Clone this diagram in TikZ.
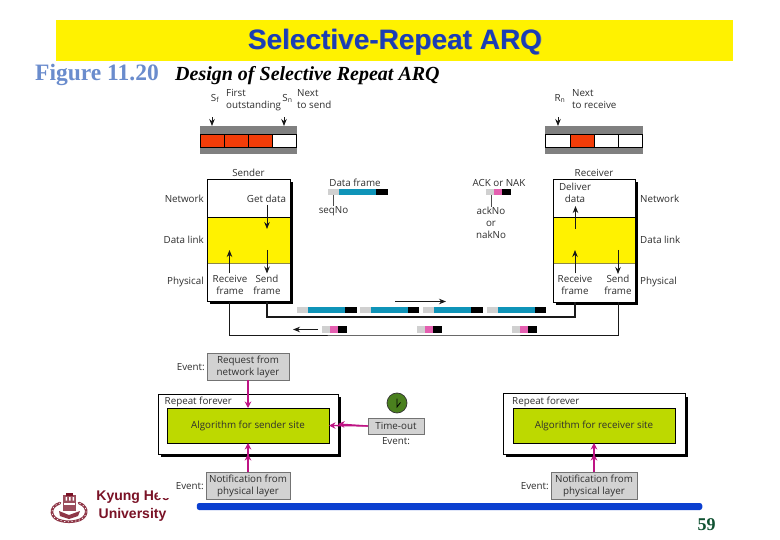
\documentclass[tikz,border=0pt]{standalone}
\usepackage{fontspec}
\setmainfont{Open Sans}
\newfontfamily\titlefont{Liberation Sans}
\newfontfamily\seriffont{Liberation Serif}
\usetikzlibrary{arrows.meta}
\definecolor{inkc}{HTML}{2E2E2E}
\definecolor{bandc}{HTML}{808080}
\definecolor{redc}{HTML}{F23C08}
\definecolor{limec}{HTML}{BDD900}
\definecolor{evc}{HTML}{D2D2D2}
\definecolor{pinkc}{HTML}{BE1484}
\definecolor{bluefr}{HTML}{0F94B8}
\definecolor{pinkfr}{HTML}{E45FB0}
\definecolor{grayfr}{HTML}{D0D0D0}
\definecolor{barc}{HTML}{0B3FD0}
\definecolor{kyung}{HTML}{7A1226}
\tikzset{
  x=1pt,y=-1pt,
  lbl/.style={font=\fontsize{9.8}{12}\selectfont,text=inkc,inner sep=0pt,align=center},
  rct/.style={inner sep=0pt,outer sep=0pt},
  arr/.style={-{Stealth[length=7pt,width=5.5pt]},line width=.8pt,black!90},
  link/.style={line width=1.1pt,black!90},
  parr/.style={-{Stealth[length=6.5pt,width=6.5pt]},line width=1.3pt,pinkc},
  evbox/.style={rct,fill=evc,draw=black!55,line width=.7pt},
  shdc/.style={fill=black},
}
% \bx{name}{style}{x1}{y1}{x2}{y2}{text}
\newcommand\bx[7]{%
  \pgfmathsetmacro\bxcx{(#3+#5)/2}\pgfmathsetmacro\bxcy{(#4+#6)/2}%
  \pgfmathsetmacro\bxw{#5-#3}\pgfmathsetmacro\bxh{#6-#4}%
  \node[rct,#2,minimum width=\bxw pt,minimum height=\bxh pt] (#1) at (\bxcx,\bxcy) {#7};}
% \dfr{name}{x}{y} data frame; \afr{name}{x}{y} ack frame
\newcommand\dfr[3]{%
  \fill[grayfr] (#2,#3) rectangle ++(11,6.5);
  \fill[bluefr] (#2+11,#3) rectangle ++(37,6.5);
  \node[rct,fill=black,minimum width=11.5pt,minimum height=6.5pt,anchor=north west] (#1) at (#2+48,#3) {};}
\newcommand\afr[3]{%
  \fill[grayfr] (#2,#3) rectangle ++(8,6.5);
  \fill[pinkfr] (#2+8,#3) rectangle ++(8,6.5);
  \node[rct,fill=black,minimum width=9pt,minimum height=6.5pt,anchor=north west] (#1) at (#2+16,#3) {};}
\begin{document}
\begin{tikzpicture}
\useasboundingbox (0,0) rectangle (780,540);
\fill[white] (0,0) rectangle (780,540);
% ---------- header
\bx{head}{fill=yellow}{56}{20}{733}{61}{}
\node[font=\titlefont\bfseries\fontsize{28}{30}\selectfont,text=black!45,inner sep=0pt] (titleshadow) at (395.6,42.6) {Selective-Repeat ARQ};
\node[font=\titlefont\bfseries\fontsize{28}{30}\selectfont,text={rgb,255:red,27;green,62;blue,178},inner sep=0pt] (title) at (395,42) {Selective-Repeat ARQ};
\node[font=\seriffont\bfseries\fontsize{23.5}{26}\selectfont,text={rgb,255:red,106;green,140;blue,205},inner sep=0pt,anchor=base west] (figno) at (35,81) {Figure 11.20};
\node[font=\seriffont\bfseries\itshape\fontsize{20}{22}\selectfont,inner sep=0pt,anchor=base west] (figcap) at (175,81) {Design of Selective Repeat ARQ};
% ---------- sender window
\bx{sband}{fill=bandc}{200}{126}{297}{154.5}{}
\bx{sc1}{fill=redc,draw=black,line width=.6pt}{200.5}{134}{224.5}{147}{}
\bx{sc2}{fill=redc,draw=black,line width=.6pt}{224.5}{134}{248.5}{147}{}
\bx{sc3}{fill=redc,draw=black,line width=.6pt}{248.5}{134}{272.5}{147}{}
\bx{sc4}{fill=white,draw=black,line width=.6pt}{272.5}{134}{296.5}{147}{}
\node[lbl] (sf) at (215,98.5) {S\textsubscript{f}};
\node[lbl,align=left,anchor=north west] (first) at (226,89.5) {First\\outstanding};
\node[lbl] (sn) at (287.5,98.5) {S\textsubscript{n}};
\node[lbl,align=left,anchor=north west] (nextsend) at (297,89.5) {Next\\to send};
\coordinate (sfa) at (212,117.5); \coordinate (sfb) at (212,126);
\coordinate (sna) at (284,117.5); \coordinate (snb) at (284,126);
\draw[arr] (sfa) -- (sfb);
\draw[arr] (sna) -- (snb);
% ---------- receiver window
\bx{rband}{fill=bandc}{545}{126}{643}{154.5}{}
\bx{rc1}{fill=white,draw=black,line width=.6pt}{545.5}{134}{570}{147}{}
\bx{rc2}{fill=redc,draw=black,line width=.6pt}{570}{134}{594}{147}{}
\bx{rc3}{fill=white,draw=black,line width=.6pt}{594}{134}{618}{147}{}
\bx{rc4}{fill=white,draw=black,line width=.6pt}{618}{134}{642.5}{147}{}
\node[lbl] (rn) at (560,98.5) {R\textsubscript{n}};
\node[lbl,align=left,anchor=north west] (nextrecv) at (572,89.5) {Next\\to receive};
\coordinate (rna) at (558,117.5); \coordinate (rnb) at (558,126);
\draw[arr] (rna) -- (rnb);
% ---------- sender stack
\bx{sboxs}{shdc}{210}{182}{292.5}{304}{}
\bx{sbox}{fill=white,draw=black,line width=.8pt}{207}{179}{290}{301}{}
\bx{sdl}{fill=yellow}{207.5}{217}{289.5}{263}{}
\draw[black,line width=.7pt] (sdl.north west) -- (sdl.north east);
\draw[black!30!yellow!70!black,line width=.7pt] (sdl.south west) -- (sdl.south east);
\node[lbl] (sender) at (248.5,173) {Sender};
\node[lbl,anchor=east] (lnet) at (204,198.5) {Network};
\node[lbl,anchor=east] (ldl) at (204,240) {Data link};
\node[lbl,anchor=east] (lph) at (204,282) {Physical};
\node[lbl] (getdata) at (266.5,198.5) {Get data};
\node[lbl] (recvs) at (230,285) {Receive\\frame};
\node[lbl] (sends) at (267,285) {Send\\frame};
\coordinate (s1a) at (267,205); \coordinate (s1b) at (267,229);
\coordinate (s2a) at (267,250); \coordinate (s2b) at (267,273.5);
\coordinate (s3a) at (229.5,273.5); \coordinate (s3b) at (229.5,250);
\draw[arr] (s1a) -- (s1b);
\draw[arr] (s2a) -- (s2b);
\draw[arr] (s3a) -- (s3b);
% ---------- receiver stack
\bx{rboxs}{shdc}{556}{182}{637.5}{305}{}
\bx{rbox}{fill=white,draw=black,line width=.8pt}{553}{179}{635}{302}{}
\bx{rdl}{fill=yellow}{553.5}{217}{634.5}{263}{}
\draw[black,line width=.7pt] (rdl.north west) -- (rdl.north east);
\draw[black!30!yellow!70!black,line width=.7pt] (rdl.south west) -- (rdl.south east);
\node[lbl] (receiver) at (594,173) {Receiver};
\node[lbl,anchor=west] (rnet) at (640,198.5) {Network};
\node[lbl,anchor=west] (rdlk) at (640,240) {Data link};
\node[lbl,anchor=west] (rph) at (640,282) {Physical};
\node[lbl] (deliver) at (575,192.5) {Deliver\\data};
\node[lbl] (recvr) at (575,285) {Receive\\frame};
\node[lbl] (sendr) at (618,285) {Send\\frame};
\coordinate (r1a) at (575.5,229); \coordinate (r1b) at (575.5,206);
\coordinate (r2a) at (575,273.5); \coordinate (r2b) at (575,250);
\coordinate (r3a) at (618,250); \coordinate (r3b) at (618,274);
\draw[arr] (r1a) -- (r1b);
\draw[arr] (r2a) -- (r2b);
\draw[arr] (r3a) -- (r3b);
% ---------- legends
\node[lbl] (dflab) at (355,183) {Data frame};
\dfr{dleg}{328}{189}
\coordinate (seqtop) at (333.5,195);
\node[lbl] (seqno) at (333.5,211) {seqNo};
\draw[black!70,line width=.7pt] (seqtop) -- (seqno.north);
\node[lbl] (aklab) at (499,183) {ACK or NAK};
\afr{aleg}{486}{189}
\coordinate (acktop) at (491,195);
\node[lbl] (ackno) at (491,222.5) {ackNo\\or\\nakNo};
\draw[black!70,line width=.7pt] (acktop) -- (ackno.north);
% ---------- channel
\coordinate (l1a) at (267,302); \coordinate (l1b) at (575,302);
\coordinate (l2a) at (229.5,302); \coordinate (l2b) at (618,302);
\draw[link] (l1a) |- (421,317) -| (l1b);
\draw[link,line width=.9pt] (l2a) |- (424,335) -| (l2b);
\dfr{d1}{297}{307}
\dfr{d2}{359.5}{307}
\dfr{d3}{423}{307}
\dfr{d4}{486.5}{307}
\afr{a1}{321.5}{326.5}
\afr{a2}{417}{326.5}
\afr{a3}{512}{326.5}
\coordinate (fwa) at (395,301.5); \coordinate (fwb) at (446,301.5);
\coordinate (bwa) at (318,329.5); \coordinate (bwb) at (293,329.5);
\draw[arr] (fwa) -- (fwb);
\draw[arr] (bwa) -- (bwb);
% ---------- sender algorithm
\bx{req}{evbox}{207}{353}{289}{380}{}
\node[lbl] (reqt) at (248,367) {Request from\\network layer};
\node[lbl,anchor=east] (ev1) at (205,367) {Event:};
\bx{sreps}{shdc}{161}{397}{341}{457}{}
\bx{srep}{fill=white,draw=black,line width=.8pt}{158}{394}{338}{454}{}
\node[lbl,anchor=west] (srept) at (164.5,401.5) {Repeat forever};
\bx{salg}{fill=limec,draw=black,line width=.7pt}{167}{408}{329}{443}{\fontsize{9.8}{12}\selectfont\color{inkc}Algorithm for sender site}
\bx{tout}{evbox}{368}{418}{424}{434}{\fontsize{9.8}{12}\selectfont\color{inkc}Time-out}
\node[lbl] (ev2) at (396,441) {Event:};
\node[circle,fill={rgb,255:red,74;green,128;blue,30},draw=black!80,line width=.7pt,minimum size=20pt,inner sep=0pt] (clock) at (397,403) {};
\draw[black,line width=.8pt] (397,398.5) -- (397,407) -- (400.5,402.5);
\bx{nots}{evbox}{206}{472}{290}{499}{}
\node[lbl] (notst) at (248,485.5) {Notification from\\physical layer};
\node[lbl,anchor=east] (ev3) at (204,486) {Event:};
\draw[parr] (req.south) -- (salg.north);
\draw[parr] (nots.north) -- (salg.south);
\draw[parr] (nots.north) -- (srep.south);
\draw[parr] (tout.west) -- (salg.east);
\draw[parr] (tout.west) -- (srep.east);
% ---------- receiver algorithm
\bx{rreps}{shdc}{506}{396.5}{688}{457}{}
\bx{rrep}{fill=white,draw=black,line width=.8pt}{503}{393.5}{685}{454}{}
\node[lbl,anchor=west] (rrept) at (512,401.5) {Repeat forever};
\bx{ralg}{fill=limec,draw=black,line width=.7pt}{513}{408}{675}{443}{\fontsize{9.8}{12}\selectfont\color{inkc}Algorithm for receiver site}
\bx{notr}{evbox}{551}{472}{637}{499}{}
\node[lbl] (notrt) at (594,485.5) {Notification from\\physical layer};
\node[lbl,anchor=east] (ev4) at (549,486) {Event:};
\draw[parr] (notr.north) -- (ralg.south);
\draw[parr] (notr.north) -- (rrep.south);
% ---------- footer
\node[font=\titlefont\bfseries\fontsize{14}{16}\selectfont,text=kyung,inner sep=0pt] (ku1) at (133,497.5) {Kyung Hee};
\fill[white] (158,486) rectangle (172,497.5);
\node[font=\titlefont\bfseries\fontsize{14}{16}\selectfont,text=kyung,inner sep=0pt] (ku2) at (132.5,515) {University};
% crest
\begin{scope}[kyung]
  \fill[kyung!75] (63,495) rectangle (76,511);
  \fill[white] (65.5,497) rectangle (67,500.5) (69,497) rectangle (70.5,500.5) (72.5,497) rectangle (74,500.5);
  \fill[white] (64,503) rectangle (75,504.5);
  \fill (66,493) rectangle (73,495.5);
  \draw[line width=2.6pt,kyung!85,line cap=round] (60,503) .. controls (48,507) and (50,519) .. (62,521) .. controls (66,522) and (72,522) .. (76,521) .. controls (88,519) and (90,507) .. (79,503);
  \draw[white,line width=.7pt,dash pattern=on 1.2pt off 2.5pt] (60,503) .. controls (48,507) and (50,519) .. (62,521) .. controls (66,522) and (72,522) .. (76,521) .. controls (88,519) and (90,507) .. (79,503);
  \fill[kyung!85] (59,511) -- (69,515) -- (80,511) -- (78,516) -- (69,519) -- (60,516) -- cycle;
\end{scope}
\node[rct,fill=barc,rounded corners=2.5pt,minimum width=505.5pt,minimum height=7pt] (bar) at (449.5,506.5) {};
\node[font=\seriffont\bfseries\fontsize{18}{20}\selectfont,text={rgb,255:red,16;green,82;blue,50},inner sep=0pt] (pageno) at (706.5,524.5) {59};
\end{tikzpicture}
\end{document}
